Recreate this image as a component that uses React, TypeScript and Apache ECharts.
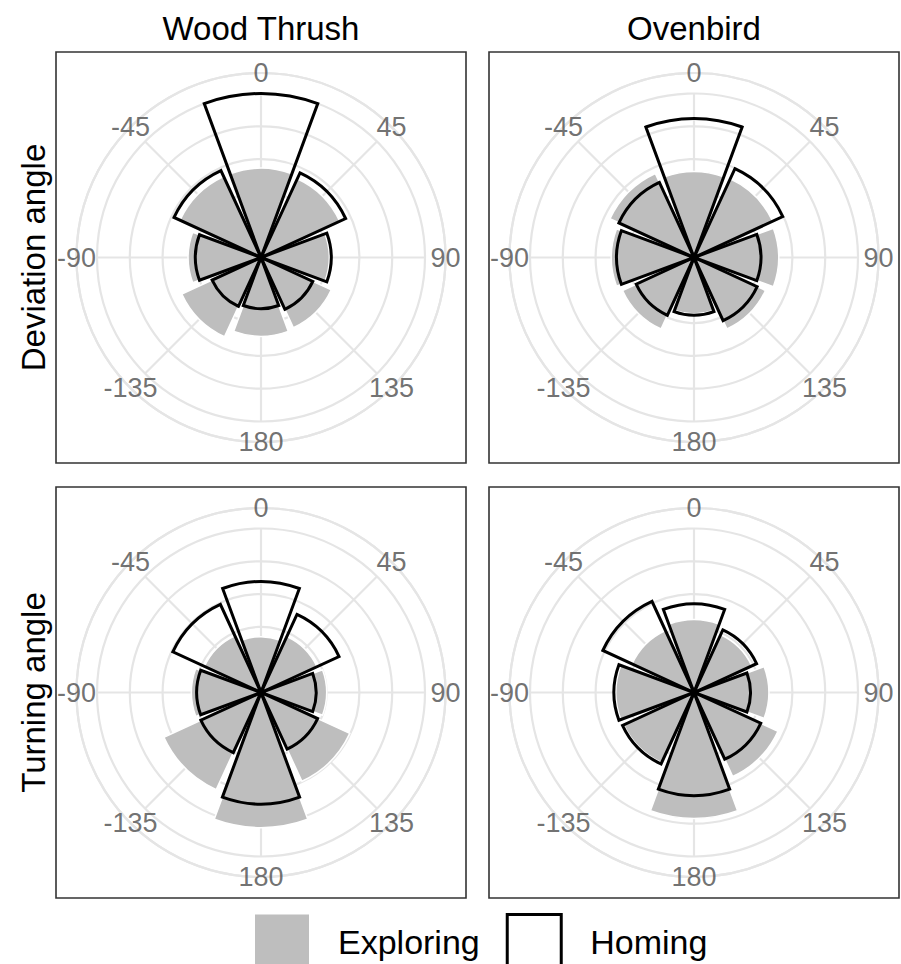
import React, { useEffect, useRef } from 'react';
import * as echarts from 'echarts';

// ---- data (percent of moves per 45-degree bin) ----
const angleCategories = ['0', '45', '90', '135', '180', '-135', '-90', '-45'];
const speciesNames = ['Wood Thrush', 'Ovenbird'];
const rowLabels = ['Deviation angle', 'Turning angle'];
const seriesNames = ['Exploring', 'Homing'];

const woodThrushDeviationExploring = [13.6, 13.2, 10.4, 11.8, 12.0, 13.3, 11.1, 13.6];
const woodThrushDeviationHoming = [25.0, 14.2, 10.7, 8.7, 7.8, 8.2, 10.0, 14.6];
const ovenbirdDeviationExploring = [13.1, 13.2, 12.9, 12.0, 8.6, 12.0, 12.6, 14.1];
const ovenbirdDeviationHoming = [21.2, 14.9, 10.2, 10.6, 8.8, 9.7, 11.8, 12.6];
const woodThrushTurningExploring = [8.5, 9.4, 10.0, 14.9, 20.6, 16.3, 10.6, 9.5];
const woodThrushTurningHoming = [16.9, 13.1, 8.4, 9.5, 17.0, 10.1, 9.8, 14.8];
const ovenbirdTurningExploring = [11.1, 9.7, 11.4, 14.1, 19.2, 11.8, 11.9, 10.4];
const ovenbirdTurningHoming = [13.5, 10.5, 8.6, 11.2, 15.7, 12.0, 12.2, 15.3];

const radiusBreakStep = 5;

const panels = [
  { row: 0, col: 0, exploring: woodThrushDeviationExploring, homing: woodThrushDeviationHoming },
  { row: 0, col: 1, exploring: ovenbirdDeviationExploring, homing: ovenbirdDeviationHoming },
  { row: 1, col: 0, exploring: woodThrushTurningExploring, homing: woodThrushTurningHoming },
  { row: 1, col: 1, exploring: ovenbirdTurningExploring, homing: ovenbirdTurningHoming },
];

// ---- layout / style ----
const W = 901;
const H = 964;
const PANEL_W = 410;
const PANEL_H = 411;
const panelLeft = [56, 489];
const panelTop = [52, 487];
const FONT = '"Liberation Sans", Arial, Helvetica, sans-serif';
const GRID = '#E5E5E5';
const GRID_W = 2.2;
const GRAY = '#BEBEBE';

function buildOption() {
  const allValues = panels.flatMap((p) => [...p.exploring, ...p.homing]);
  const dataMax = Math.max(...allValues);
  const rOuter = (dataMax * 0.45) / 0.4;

  const polar: any[] = [];
  const angleAxis: any[] = [];
  const radiusAxis: any[] = [];
  const series: any[] = [];
  const graphic: any[] = [];

  panels.forEach((p, i) => {
    const cx = panelLeft[p.col] + PANEL_W / 2;
    const cy = panelTop[p.row] + PANEL_H / 2;
    const gi = 2 * i;
    const bi = 2 * i + 1;
    polar.push({ center: [cx, cy], radius: 0.4 * PANEL_W });
    polar.push({ center: [cx, cy], radius: 0.45 * PANEL_W });

    angleAxis.push({
      polarIndex: gi,
      type: 'value',
      min: 0,
      max: 360,
      interval: 45,
      startAngle: 90,
      clockwise: true,
      axisLine: { show: false },
      axisTick: { show: false },
      axisLabel: { show: false },
      splitLine: { show: true, lineStyle: { color: GRID, width: GRID_W } },
    });
    angleAxis.push({
      polarIndex: bi,
      type: 'category',
      data: angleCategories,
      startAngle: 112.5,
      clockwise: true,
      axisLine: { show: true, lineStyle: { color: GRID, width: GRID_W } },
      axisTick: { show: false },
      axisLabel: { show: false },
      splitLine: { show: false },
    });
    radiusAxis.push({
      polarIndex: gi,
      type: 'value',
      min: 0,
      max: 1,
      axisLine: { show: false },
      axisTick: { show: false },
      axisLabel: { show: false },
      splitLine: { show: false },
    });
    radiusAxis.push({
      polarIndex: bi,
      type: 'value',
      min: 0,
      max: rOuter,
      interval: radiusBreakStep,
      axisLine: { show: false },
      axisTick: { show: false },
      axisLabel: { show: false },
      splitLine: { show: true, lineStyle: { color: GRID, width: GRID_W } },
    });

    series.push({
      name: seriesNames[0],
      type: 'bar',
      coordinateSystem: 'polar',
      polarIndex: bi,
      data: p.exploring,
      barCategoryGap: '10%',
      barGap: '-100%',
      itemStyle: { color: GRAY, borderColor: '#ffffff', borderWidth: 1.5 },
      z: 2,
    });
    series.push({
      name: seriesNames[1],
      type: 'bar',
      coordinateSystem: 'polar',
      polarIndex: bi,
      data: p.homing,
      barCategoryGap: '10%',
      barGap: '-100%',
      itemStyle: { color: 'rgba(255,255,255,0)', borderColor: '#000000', borderWidth: 3 },
      z: 3,
    });
    series.push({
      type: 'scatter',
      coordinateSystem: 'polar',
      polarIndex: bi,
      symbolSize: 1,
      itemStyle: { color: 'rgba(0,0,0,0)' },
      data: angleCategories.map((c) => [rOuter, c]),
      label: {
        show: true,
        position: 'inside',
        formatter: (prm: any) => angleCategories[prm.dataIndex],
        fontSize: 27,
        fontFamily: FONT,
        color: '#4D4D4D',
      },
      z: 4,
    });

    graphic.push({
      type: 'rect',
      shape: { x: panelLeft[p.col], y: panelTop[p.row], width: PANEL_W, height: PANEL_H },
      style: { fill: 'none', stroke: '#333333', lineWidth: 1.6 },
      z: 10,
    });
  });

  speciesNames.forEach((s, c) => {
    graphic.push({
      type: 'text',
      x: panelLeft[c] + PANEL_W / 2,
      y: 28,
      style: {
        text: s,
        fill: '#000',
        font: `33px ${FONT}`,
        align: 'center',
        verticalAlign: 'middle',
        textAlign: 'center',
        textVerticalAlign: 'middle',
      },
      z: 10,
    });
  });
  rowLabels.forEach((s, r) => {
    graphic.push({
      type: 'text',
      x: 33,
      y: panelTop[r] + PANEL_H / 2,
      rotation: Math.PI / 2,
      style: {
        text: s,
        fill: '#000',
        font: `33px ${FONT}`,
        align: 'center',
        verticalAlign: 'middle',
        textAlign: 'center',
        textVerticalAlign: 'middle',
      },
      z: 10,
    });
  });

  return {
    animation: false,
    backgroundColor: '#ffffff',
    polar,
    angleAxis,
    radiusAxis,
    legend: {
      left: 250,
      top: 908,
      itemWidth: 54,
      itemHeight: 54,
      itemGap: 26,
      icon: 'rect',
      selectedMode: false,
      textStyle: { fontSize: 34, fontFamily: FONT, color: '#000', padding: [0, 0, 0, 24] },
      data: [
        { name: seriesNames[0], itemStyle: { color: GRAY, borderWidth: 0 } },
        { name: seriesNames[1], itemStyle: { color: '#ffffff', borderColor: '#000000', borderWidth: 3 } },
      ],
    },
    series,
    graphic,
  };
}

export default function App() {
  const ref = useRef<HTMLDivElement>(null);
  useEffect(() => {
    if (!ref.current) return;
    const chart = echarts.init(ref.current, null, { renderer: 'svg' });
    chart.setOption(buildOption() as any);
    return () => chart.dispose();
  }, []);
  return (
    <div
      ref={ref}
      style={{ position: 'absolute', left: 0, top: 0, width: W, height: H, background: '#fff' }}
    />
  );
}
